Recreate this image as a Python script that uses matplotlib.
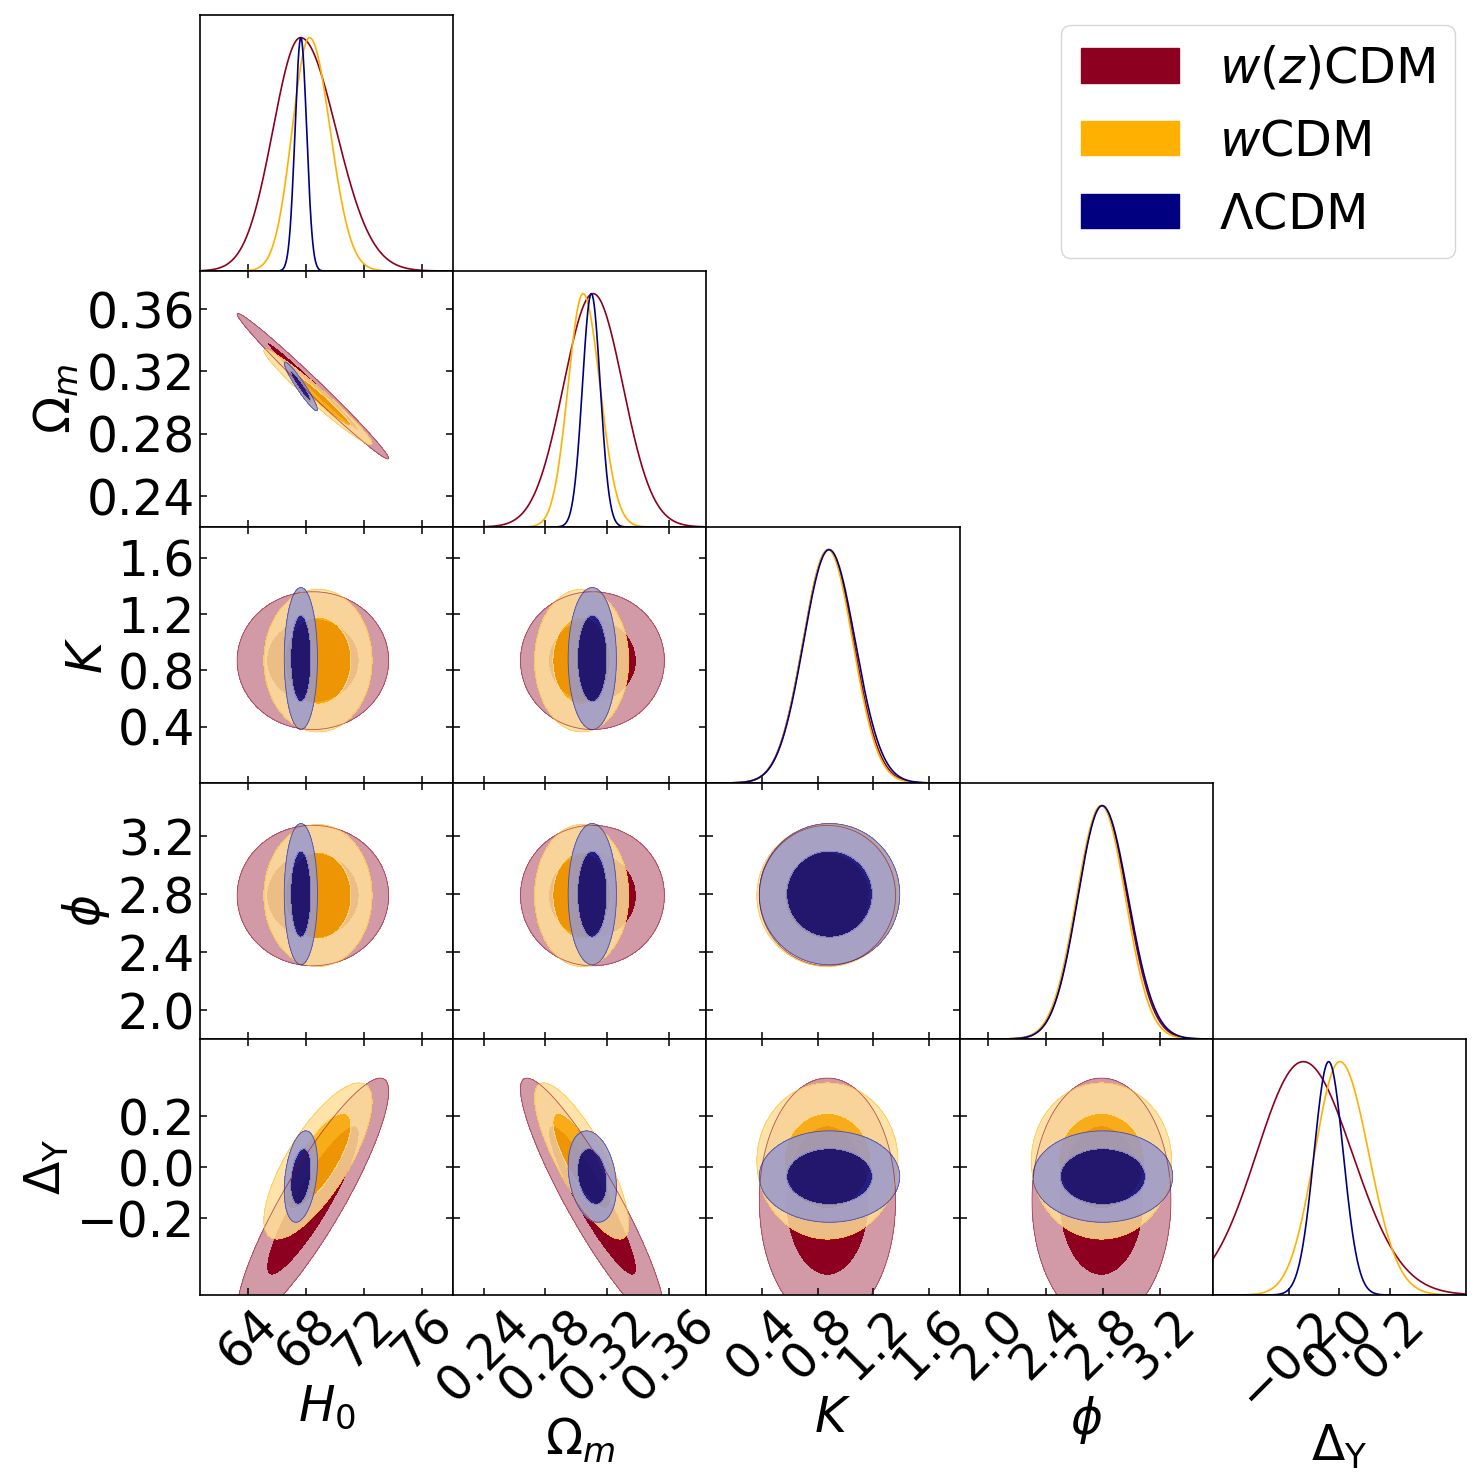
import numpy as np
import matplotlib
matplotlib.use("Agg")
import matplotlib.pyplot as plt
from matplotlib.patches import Patch
from matplotlib.colors import to_rgb

# parameters of the triangle plot
labels = [r"$H_0$", r"$\Omega_m$", r"$K$", r"$\phi$", r"$\Delta_{\rm Y}$"]
lims = [(60.67, 78.12), (0.2201, 0.3845), (0.0, 1.82), (1.80, 3.567), (-0.50, 0.503)]
ticks = [[64, 68, 72, 76],
         [0.24, 0.28, 0.32, 0.36],
         [0.4, 0.8, 1.2, 1.6],
         [2.0, 2.4, 2.8, 3.2],
         [-0.2, 0.0, 0.2]]

models = [r"$w(z)$CDM", r"$w$CDM", r"$\Lambda$CDM"]
colors = ["#8E0020", "#FFB000", "#000080"]
alphas = [1.0, 0.85, 0.85]

# 1D marginals: peak position, width left / right of the peak
peak_1d = [[67.60, 0.3110, 0.877, 2.792, -0.142],
           [68.22, 0.3044, 0.874, 2.788, 0.003],
           [67.62, 0.3098, 0.882, 2.795, -0.041]]
siglo_1d = [[1.90, 0.0193, 0.182, 0.170, 0.185],
            [1.20, 0.0097, 0.180, 0.172, 0.100],
            [0.40, 0.0058, 0.183, 0.170, 0.058]]
sighi_1d = [[2.45, 0.0193, 0.182, 0.178, 0.195],
            [1.42, 0.0110, 0.178, 0.170, 0.115],
            [0.40, 0.0058, 0.188, 0.182, 0.058]]

# 2D contours: centre, width, correlations (K and phi uncorrelated)
mean_2d = [[68.45, 0.3105, 0.870, 2.790, -0.130],
           [68.80, 0.3035, 0.870, 2.790, 0.025],
           [67.62, 0.3104, 0.885, 2.800, -0.036]]
sig_2d = [[2.10, 0.0188, 0.197, 0.195, 0.193],
          [1.50, 0.0123, 0.204, 0.197, 0.123],
          [0.46, 0.0063, 0.203, 0.196, 0.072]]
rho_H0_Om = [-0.990, -0.975, -0.95]
rho_H0_dY = [0.89, 0.76, 0.30]
rho_Om_dY = [-0.91, -0.81, -0.24]

levels = [0, 2.30, 6.18]   # 68% / 95% for 2 dof

FS = 35
n = len(labels)


def corr_matrix(m):
    c = np.eye(n)
    c[0, 1] = c[1, 0] = rho_H0_Om[m]
    c[0, 4] = c[4, 0] = rho_H0_dY[m]
    c[1, 4] = c[4, 1] = rho_Om_dY[m]
    return c


def pale(c):
    return tuple(0.4 * v + 0.6 for v in to_rgb(c))


fig = plt.figure(figsize=(14.81, 14.83), dpi=100)
W, H = 1481.0, 1483.0
x0, y0, pw, ph = 200.0, 15.0, 253.2, 256.0

for i in range(n):
    for j in range(i + 1):
        ax = fig.add_axes([(x0 + j * pw) / W, 1 - (y0 + (i + 1) * ph) / H, pw / W, ph / H])
        for s in ax.spines.values():
            s.set_linewidth(1.2)
        ax.set_xlim(lims[j])
        ax.set_xticks(ticks[j])
        if i == j:
            # 1D marginal
            x = np.linspace(lims[j][0], lims[j][1], 600)
            for m in range(3):
                p = peak_1d[m][j]
                s = np.where(x < p, siglo_1d[m][j], sighi_1d[m][j])
                ax.plot(x, np.exp(-0.5 * ((x - p) / s) ** 2), color=colors[m], lw=1.2)
            ax.set_ylim(0, 1.097)
            ax.set_yticks([])
            ax.tick_params(axis="x", direction="in", length=5, width=1.1,
                           labelsize=FS, top=False)
        else:
            x = np.linspace(lims[j][0], lims[j][1], 400)
            y = np.linspace(lims[i][0], lims[i][1], 400)
            X, Y = np.meshgrid(x, y)
            for m in range(3):
                r = corr_matrix(m)[i, j]
                u = (X - mean_2d[m][j]) / sig_2d[m][j]
                v = (Y - mean_2d[m][i]) / sig_2d[m][i]
                chi2 = (u * u - 2 * r * u * v + v * v) / (1 - r * r)
                ax.contourf(X, Y, chi2, levels=levels,
                            colors=[to_rgb(colors[m]), pale(colors[m])], alpha=alphas[m])
                # thin outline of the 95% region only
                ax.contour(X, Y, chi2, levels=levels[2:], colors=[colors[m]],
                           linewidths=0.6, alpha=alphas[m] * 0.6)
            ax.set_ylim(lims[i])
            ax.set_yticks(ticks[i])
            ax.tick_params(direction="in", length=5, width=1.1, labelsize=FS,
                           top=True, right=True)
            if j == 0:
                ax.set_ylabel(labels[i], fontsize=FS)
            else:
                ax.set_yticklabels([])
        if i == n - 1:
            ax.set_xlabel(labels[j], fontsize=FS)
            for t in ax.get_xticklabels():
                t.set_rotation(45)
        else:
            ax.set_xticklabels([])

handles = [Patch(color=c) for c in colors]
fig.legend(handles, models, loc="upper right", fontsize=35.5,
           bbox_to_anchor=(1455 / W, 1 - 25 / H), borderaxespad=0)

fig.savefig("out.png", dpi=100)
